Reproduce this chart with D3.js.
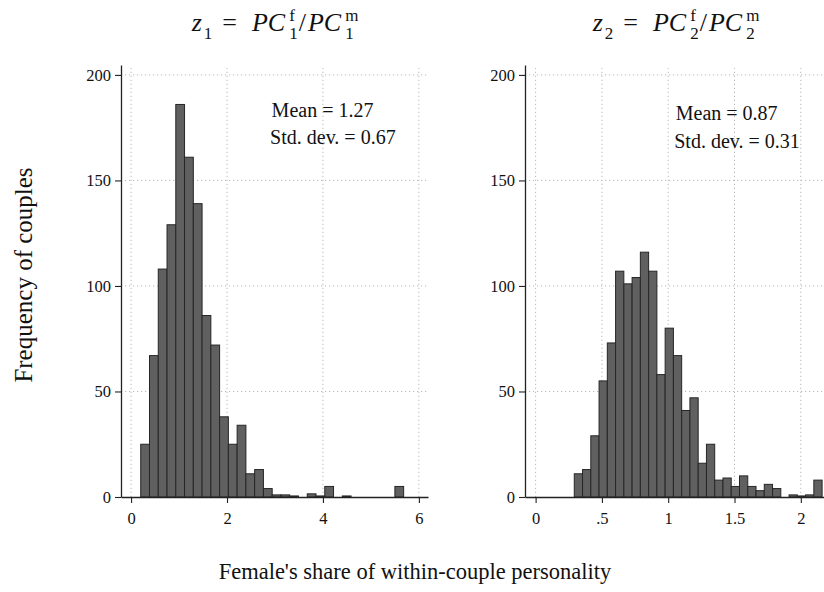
<!DOCTYPE html>
<html>
<head>
<meta charset="utf-8">
<script src="https://cdn.jsdelivr.net/npm/d3@7"></script>
<style>
  html, body { margin: 0; padding: 0; background: #fff; }
  svg { display: block; }
  text { font-family: "Liberation Serif", "DejaVu Serif", serif; fill: #111; }
</style>
</head>
<body>
<div id="chart"></div>
<script>
// ---------- data ----------
const yTicks = [0, 50, 100, 150, 200];

// Panel 1: z1 = PC1f / PC1m
const leftBinStart = 0.2014;
const leftBinWidth = 0.1827;
const leftCounts = [25, 67, 108, 129, 186, 161, 139, 86, 72, 38, 25, 34, 11, 13, 4, 1, 1, 0.5, 0, 1.5, 0.5, 5, 0, 0.5, 0, 0, 0, 0, 0, 5];
const leftXTicks = [0, 2, 4, 6];
const leftXTickLabels = ["0", "2", "4", "6"];
const leftStats = ["Mean = 1.27", "Std. dev. = 0.67"];

// Panel 2: z2 = PC2f / PC2m
const rightBinStart = 0.2916;
const rightBinWidth = 0.0623;
const rightCounts = [11, 13, 29, 55, 73, 107, 101, 104, 116, 107, 58, 80, 67, 41, 47, 16, 25, 8, 9, 5, 10, 5, 3, 6, 4, 0, 1, 0.5, 1, 8];
const rightXTicks = [0, 0.5, 1, 1.5, 2];
const rightXTickLabels = ["0", ".5", "1", "1.5", "2"];
const rightStats = ["Mean = 0.87", "Std. dev. = 0.31"];

const yTitle = "Frequency of couples";
const xTitle = "Female's share of within-couple personality";

// ---------- layout ----------
const W = 824, H = 592;
const svg = d3.select("#chart").append("svg").attr("width", W).attr("height", H);
svg.append("rect").attr("width", W).attr("height", H).attr("fill", "#fff");

const yTop = 65, yBottom = 497, yMax = 204.7;
const y = d3.scaleLinear().domain([0, yMax]).range([yBottom, yTop]);

const panels = [
  { idx: 1, counts: leftCounts, start: leftBinStart, width: leftBinWidth,
    xDomain: [-0.21, 6.19], xRange: [121, 428],
    ticks: leftXTicks, labels: leftXTickLabels, stats: leftStats, statPos: [2.93, 180, 167.3] },
  { idx: 2, counts: rightCounts, start: rightBinStart, width: rightBinWidth,
    xDomain: [-0.08, 2.19], xRange: [525, 826],
    ticks: rightXTicks, labels: rightXTickLabels, stats: rightStats, statPos: [1.057, 178.5, 165.3] }
];

const gridColor = "#b8b8b8";
const axisColor = "#222";

panels.forEach(p => {
  const x = d3.scaleLinear().domain(p.xDomain).range(p.xRange);
  const g = svg.append("g");

  // gridlines
  g.append("g").selectAll("line.h").data(yTicks.filter(v => v > 0)).join("line")
    .attr("x1", p.xRange[0]).attr("x2", p.xRange[1])
    .attr("y1", d => y(d)).attr("y2", d => y(d))
    .attr("stroke", gridColor).attr("stroke-width", 1).attr("stroke-dasharray", "1.2,2.8");
  g.append("g").selectAll("line.v").data(p.ticks).join("line")
    .attr("x1", d => x(d)).attr("x2", d => x(d))
    .attr("y1", y(0)).attr("y2", yTop + 3)
    .attr("stroke", gridColor).attr("stroke-width", 1).attr("stroke-dasharray", "1.2,2.8");

  // bars
  const bars = p.counts.map((c, i) => ({ x0: p.start + i * p.width, x1: p.start + (i + 1) * p.width, c }))
    .filter(d => d.c > 0);
  g.append("g").selectAll("rect").data(bars).join("rect")
    .attr("x", d => x(d.x0)).attr("width", d => x(d.x1) - x(d.x0))
    .attr("y", d => y(d.c)).attr("height", d => y(0) - y(d.c))
    .attr("fill", "#606060").attr("stroke", "#262626").attr("stroke-width", 1);

  // axes
  const yAxis = d3.axisLeft(y).tickValues(yTicks).tickSize(6).tickSizeOuter(0).tickPadding(4).tickFormat(d3.format("d"));
  const ya = g.append("g").attr("transform", `translate(${p.xRange[0]},0)`).call(yAxis);
  const xAxis = d3.axisBottom(x).tickValues(p.ticks).tickSize(6).tickSizeOuter(0).tickPadding(9)
    .tickFormat((d, i) => p.labels[i]);
  const xa = g.append("g").attr("transform", `translate(0,${yBottom})`).call(xAxis);
  [ya, xa].forEach(a => {
    a.select(".domain").attr("stroke", axisColor).attr("stroke-width", 1.3);
    a.selectAll(".tick line").attr("stroke", axisColor).attr("stroke-width", 1.1);
    a.selectAll(".tick text").attr("fill", "#111").style("font-family", '"Liberation Serif", serif').style("font-size", "16.5px");
  });

  // stats text
  g.append("text").attr("x", x(p.statPos[0])).attr("y", y(p.statPos[1]))
    .style("font-size", "20px").text(p.stats[0]);
  g.append("text").attr("x", x(p.statPos[0]) - 1.5).attr("y", y(p.statPos[2]))
    .style("font-size", "20px").text(p.stats[1]);

  // title (math)
  const cx = (p.xRange[0] + p.xRange[1]) / 2;
  const sub = String(p.idx);
  drawMath(cx, 31, [
    { t: "z", it: true },
    { sub: sub, gapL: 2, gapR: 10 },
    { t: "=" , gapR: 15 },
    { t: "PC", it: true },
    { sub: sub, sup: "f", gapL: 4, gapR: 1 },
    { t: "/", gapR: 2 },
    { t: "PC", it: true },
    { sub: sub, sup: "m", gapL: 4, gapR: 0 }
  ]);
});

function drawMath(cx, baseline, pieces) {
  const big = 26, small = 17;
  const tg = svg.append("g");
  let xpos = 0;
  pieces.forEach(pc => {
    if (pc.t !== undefined) {
      const t = tg.append("text").attr("x", xpos).attr("y", baseline)
        .style("font-size", big + "px").style("font-style", pc.it ? "italic" : "normal")
        .text(pc.t);
      xpos += t.node().getComputedTextLength() + (pc.gapR || 0);
    } else {
      let w = 0;
      const x0 = xpos + (pc.gapL || 0);
      if (pc.sub) {
        const s = tg.append("text").attr("x", x0).attr("y", baseline + 8)
          .style("font-size", small + "px").text(pc.sub);
        w = Math.max(w, s.node().getComputedTextLength());
      }
      if (pc.sup) {
        const s = tg.append("text").attr("x", x0).attr("y", baseline - 10)
          .style("font-size", small + "px").text(pc.sup);
        w = Math.max(w, s.node().getComputedTextLength());
      }
      xpos = x0 + w + (pc.gapR || 0);
    }
  });
  const bb = tg.node().getBBox();
  tg.attr("transform", `translate(${cx - (bb.x + bb.width / 2)},0)`);
}

// axis titles
svg.append("text").attr("transform", `translate(32,275) rotate(-90)`)
  .attr("text-anchor", "middle").style("font-size", "25px").text(yTitle);
svg.append("text").attr("x", 415).attr("y", 579)
  .attr("text-anchor", "middle").style("font-size", "22.5px").text(xTitle);
</script>
</body>
</html>
